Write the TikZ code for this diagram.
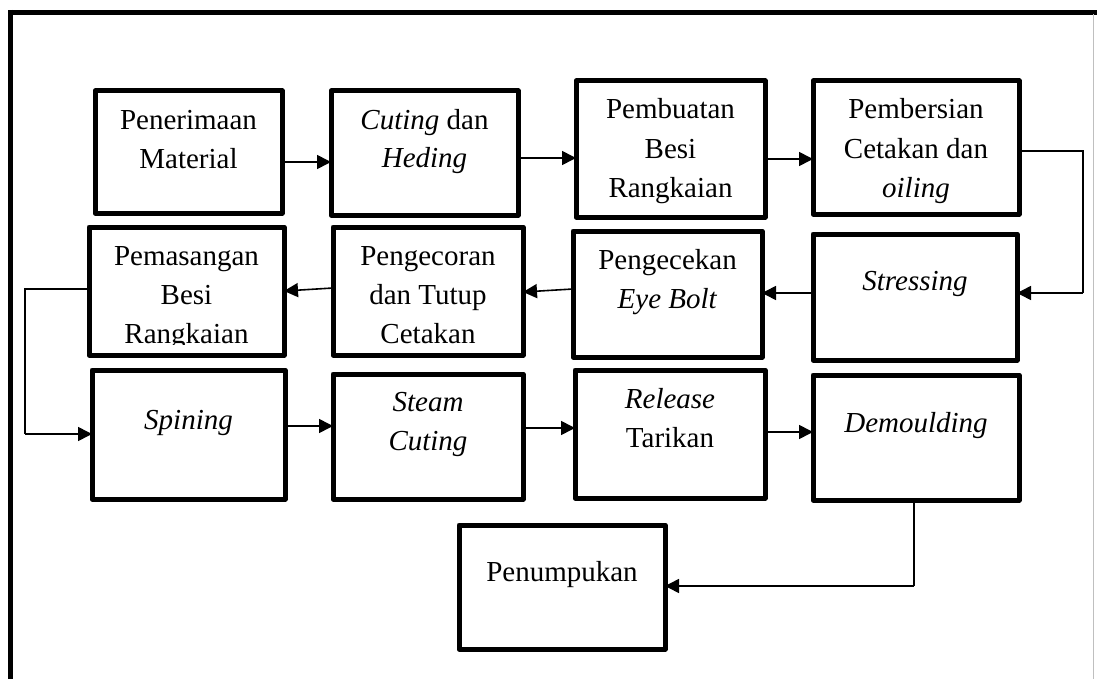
\documentclass[tikz,border=0pt]{standalone}
\usepackage{fontspec}
\setmainfont{Liberation Serif}
\usetikzlibrary{arrows.meta,calc}
\begin{document}
\begin{tikzpicture}[x=1pt,y=-1pt,
  box/.style={draw=black,line width=5pt,line join=round,rectangle,inner sep=0pt,outer sep=0pt},
  lbl/.style={anchor=base,align=center,inner sep=0pt,font=\fontsize{29}{39}\selectfont},
  conn/.style={draw=black,line width=1.6pt,-{Triangle[length=14pt,width=14pt]}},
  wire/.style={draw=black,line width=1.6pt}]
\useasboundingbox (0,0) rectangle (1097,679);
% outer frame
\draw[line width=5pt] (8,12.5) -- (1097,12.5);
\draw[line width=5pt] (10,10) -- (10,679);
\draw[line width=1pt,black!25] (1093,14) -- (1093,679);
% boxes
\node[box,minimum width=187pt,minimum height=122pt] (b1) at (188.5,152) {};
\node[box,minimum width=187pt,minimum height=124pt] (b2) at (424.5,153) {};
\node[box,minimum width=189pt,minimum height=136pt] (b3) at (670.5,149) {};
\node[box,minimum width=206pt,minimum height=133pt] (b4) at (916,147.5) {};
\node[box,minimum width=204pt,minimum height=126pt] (b5) at (915,297) {};
\node[box,minimum width=189pt,minimum height=126pt] (b6) at (667.5,294) {};
\node[box,minimum width=190pt,minimum height=128pt] (b7) at (428,291) {};
\node[box,minimum width=195pt,minimum height=128pt] (b8) at (186.5,291) {};
\node[box,minimum width=193pt,minimum height=129pt] (b9) at (188.5,434.5) {};
\node[box,minimum width=190pt,minimum height=125pt] (b10) at (428,436.5) {};
\node[box,minimum width=190pt,minimum height=128pt] (b11) at (670,434) {};
\node[box,minimum width=206pt,minimum height=125pt] (b12) at (916,437.5) {};
\node[box,minimum width=206pt,minimum height=124pt] (b13) at (562,587) {};
% texts (anchor base = baseline of the last line)
\node[lbl] (t1) at (188.5,169) {Penerimaan\\Material};
\node[lbl] (t2) at (424.5,168) {\textit{Cuting} dan\\\textit{Heding}};
\node[lbl] (t3) at (670.5,197) {Pembuatan\\Besi\\Rangkaian};
\node[lbl] (t4) at (916,197) {Pembersian\\Cetakan dan\\\textit{oiling}};
\node[lbl] (t5) at (915,290) {\textit{Stressing}};
\node[lbl] (t6) at (667.5,308) {Pengecekan\\\textit{Eye Bolt}};
\node[lbl] (t7) at (428,343) {Pengecoran\\dan Tutup\\Cetakan};
\begin{scope}
\clip (80,220) rectangle (290,344);
\node[lbl] (t8) at (186.5,343) {Pemasangan\\Besi\\Rangkaian};
\end{scope}
\node[lbl] (t9) at (188.5,429) {\textit{Spining}};
\node[lbl] (t10) at (428,450) {\textit{Steam}\\\textit{Cuting}};
\node[lbl] (t11) at (670,447) {\textit{Release}\\Tarikan};
\node[lbl] (t12) at (916,432) {\textit{Demoulding}};
\node[lbl] (t13) at (562,581) {Penumpukan};
% helper coordinates
\coordinate (r1) at (1083,151);
\coordinate (r2) at (1083,293);
\coordinate (l1) at (25,289);
\coordinate (l2) at (25,434);
\coordinate (d1) at (914,586);
% connectors
\draw[conn] (b1.east |- 0,162) -- (b2.west |- 0,162);
\draw[conn] (b2.east |- 0,158) -- (b3.west |- 0,158);
\draw[conn] (b3.east |- 0,159) -- (b4.west |- 0,159);
\draw[wire] (b4.east |- r1) -- (r1) -- (r2);
\draw[conn] (r2) -- (b5.east |- r2);
\draw[conn] (b5.west |- 0,293) -- (b6.east |- 0,293);
\draw[conn] (b6.west |- 0,289) -- (b7.east |- 0,292);
\draw[conn] (b7.west |- 0,288) -- (b8.east |- 0,291);
\draw[wire] (b8.west |- l1) -- (l1) -- (l2);
\draw[conn] (l2) -- (b9.west |- l2);
\draw[conn] (b9.east |- 0,426) -- (b10.west |- 0,426);
\draw[conn] (b10.east |- 0,428) -- (b11.west |- 0,428);
\draw[conn] (b11.east |- 0,432) -- (b12.west |- 0,432);
\draw[wire] (b12.south -| d1) -- (d1);
\draw[conn] (d1) -- (b13.east |- d1);
\end{tikzpicture}
\end{document}
